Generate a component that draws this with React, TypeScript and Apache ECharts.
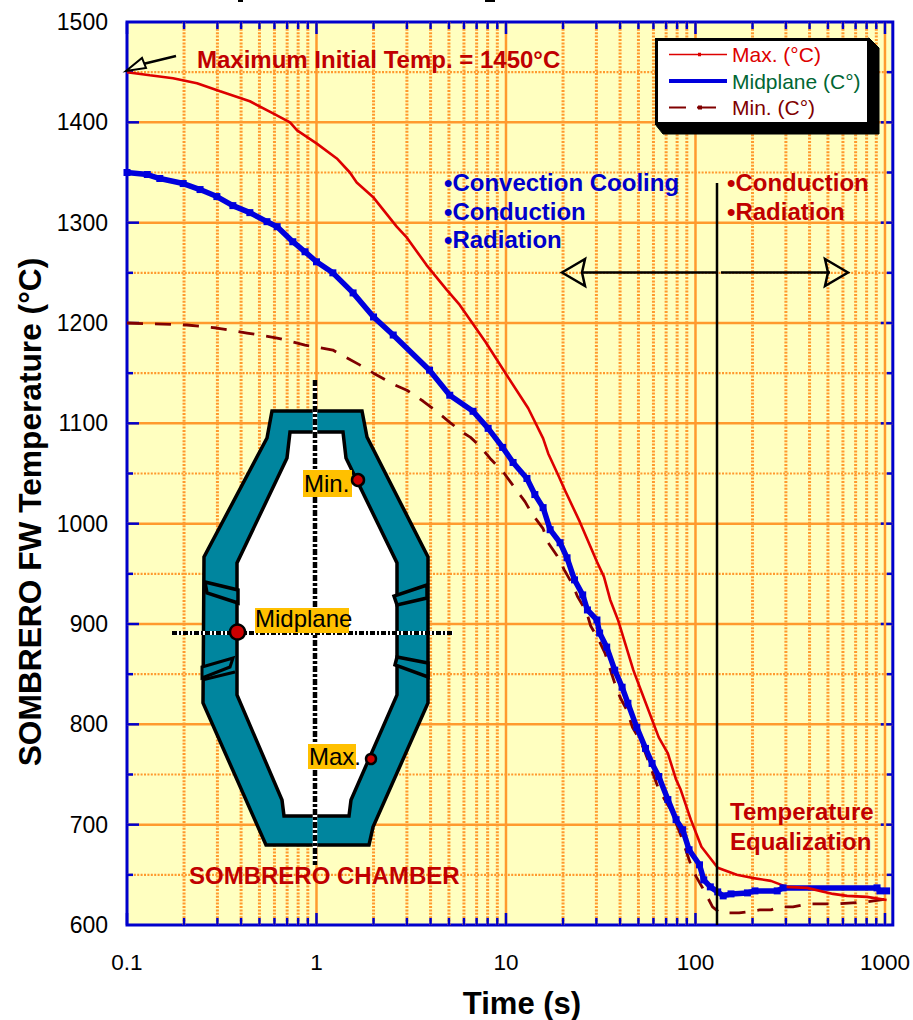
import React, { useEffect, useRef } from "react";
import * as echarts from "echarts";

const FONT = "'Liberation Sans', Arial, sans-serif";

const maxCurve: [number, number][] = [
  [0.1, 1450], [0.132, 1447], [0.175, 1444], [0.234, 1439], [0.31, 1431], [0.445, 1421], [0.59, 1409], [0.725, 1400],
  [0.79, 1392], [1.0, 1379], [1.28, 1364], [1.5, 1350], [1.63, 1340], [2.0, 1325], [2.65, 1296], [3.0, 1285],
  [3.8, 1258], [4.87, 1233], [5.7, 1218], [7.8, 1181], [10.1, 1148], [13.1, 1115], [15.7, 1085], [16.7, 1070],
  [18.9, 1048], [20.5, 1033], [24.5, 1002], [30.2, 962], [32.9, 947], [35.5, 924], [39, 904], [47, 854],
  [52, 832], [64, 787], [71.5, 771], [79, 745], [83.5, 735], [94.5, 705], [107.5, 678], [131, 657],
  [165, 650], [198, 647], [250, 644], [303, 638], [388, 637], [532, 631], [631, 629], [803, 628], [1020, 625],
];

const midCurve: [number, number][] = [
  [0.1, 1350], [0.128, 1348], [0.149, 1344], [0.198, 1339], [0.243, 1333], [0.298, 1326], [0.362, 1317], [0.445, 1310],
  [0.548, 1301], [0.62, 1296], [0.75, 1281], [0.87, 1271], [1.0, 1261], [1.22, 1250], [1.56, 1230], [2.0, 1206],
  [2.54, 1188], [3.95, 1153], [5.05, 1128], [6.7, 1112], [8.05, 1095], [9.6, 1076], [10.9, 1061], [12.9, 1045],
  [14.2, 1029], [15.7, 1016], [17.1, 994], [19.3, 981], [21, 966], [23, 944], [25.4, 929], [26.9, 914],
  [30.2, 904], [31.2, 891], [34, 877], [37.5, 854], [41, 837], [44, 821], [49, 797], [54.5, 776],
  [59, 761], [64, 748], [71.5, 725], [79, 705], [85.6, 695], [92.5, 675], [105, 660], [110.6, 645],
  [119.8, 638], [131, 633], [140, 629], [154, 631], [188, 632], [206, 634], [270, 634], [290, 637],
  [908, 637], [941, 634], [1020, 634],
];

const minCurve: [number, number][] = [
  [0.1, 1200], [0.207, 1198], [0.298, 1195], [0.43, 1190], [0.62, 1185], [0.87, 1178], [1.22, 1173], [1.7, 1158],
  [2.0, 1150], [2.54, 1139], [3.0, 1133], [3.66, 1122], [4.3, 1112], [5.05, 1101], [5.9, 1091], [6.5, 1086],
  [7.3, 1077], [8.25, 1065], [9.8, 1050], [10.9, 1038], [12.6, 1022], [13.7, 1010], [15.7, 995], [16.7, 981],
  [18.6, 968], [20.3, 954], [22.5, 939], [23.9, 927], [26.6, 912], [28, 898], [30.5, 886], [33.3, 871],
  [37.5, 841], [40, 827], [43.5, 814], [46.5, 797], [51, 784], [54.5, 771], [58, 757], [61, 746],
  [64, 735], [74, 715], [83.5, 690], [94.5, 660], [101, 648], [112, 633], [123, 618], [135, 612],
  [170, 612], [218, 615], [250, 615], [279, 618], [327, 618], [388, 621], [560, 621], [803, 623], [1020, 626],
];

const majorX = [0.1, 1, 10, 100, 1000];
const minorX = [
  0.2, 0.3, 0.4, 0.5, 0.6, 0.7, 0.8, 0.9, 2, 3, 4, 5, 6, 7, 8, 9,
  20, 30, 40, 50, 60, 70, 80, 90, 200, 300, 400, 500, 600, 700, 800, 900,
];
const majorY = [600, 700, 800, 900, 1000, 1100, 1200, 1300, 1400, 1500];
const minorY = [650, 750, 850, 950, 1050, 1150, 1250, 1350, 1450];

const ORANGE = "#ff9a2e";
const BLUE = "#0000cc";
const RED = "#c00000";
const TEAL = "#00859e";

// Legend keys: tiny specks at the corners hold the icon box open at 58x14.
const BOX = "M0 0H.01V.01H0Z M58 14H57.99V13.99H58Z ";
const ICON_MAX = "path://" + BOX + "M0 6.2H58V7.8H0Z M29 5.2H32V8.8H29Z";
const ICON_MID = "path://" + BOX + "M0 5H58V9H0Z";
const ICON_MIN = "path://" + BOX + "M0 6H17V8H0Z M28 6H47V8H28Z M29 5H33V9H29Z";

const seg = (x1: number, y1: number, x2: number, y2: number, stroke: string, lineWidth: number, lineDash?: number[]) => ({
  type: "line",
  shape: { x1, y1, x2, y2 },
  style: { stroke, lineWidth, lineDash: lineDash || null, fill: null },
});

const verticalGrid = (major: boolean) => (params: any, api: any) => {
  const r = params.coordSys;
  const v = api.value(0);
  const x = api.coord([v, 1000])[0];
  const top = r.y;
  const bottom = r.y + r.height;
  const t = major ? 12 : 7;
  const children: any[] = [];
  if (major) {
    if (v > 0.11) children.push(seg(x, top, x, bottom, ORANGE, 2.5));
  } else {
    children.push(seg(x, top, x, bottom, ORANGE, 3, [2, 1.4]));
  }
  children.push(seg(x, top, x, top + t, BLUE, 2.5));
  children.push(seg(x, bottom, x, bottom - t, BLUE, 2.5));
  return { type: "group", children };
};

const horizontalGrid = (major: boolean) => (params: any, api: any) => {
  const r = params.coordSys;
  const v = api.value(1);
  const y = api.coord([1, v])[1];
  const left = r.x;
  const right = r.x + r.width;
  const t = major ? 12 : 6;
  const children: any[] = [];
  if (major) {
    if (v > 600 && v < 1500) children.push(seg(left, y, right, y, ORANGE, 2.5));
  } else {
    children.push(seg(left, y, right, y, ORANGE, 2.2, [2, 1.4]));
  }
  if (v > 600 && v < 1500) {
    children.push(seg(left, y, left + t, y, BLUE, 2.5));
    children.push(seg(right, y, right - t, y, BLUE, 2.5));
  }
  return { type: "group", children };
};

const txt = (text: string, x: number, y: number, fill: string, fontSize = 24, fontWeight = "bold", align = "left", extra: any = {}) => ({
  type: "text",
  x,
  y,
  z: 8,
  ...extra,
  style: { text, x: 0, y: 0, fill, fontSize, fontWeight, fontFamily: FONT, align, verticalAlign: "middle" },
});

const poly = (points: number[][], fill: string, stroke: string, lineWidth: number, z = 5) => ({
  type: "polygon",
  z,
  shape: { points },
  style: { fill, stroke, lineWidth, lineJoin: "miter" },
});

const gline = (x1: number, y1: number, x2: number, y2: number, stroke: string, lineWidth: number, z = 6, lineDash?: number[]) => ({
  type: "line",
  z,
  shape: { x1, y1, x2, y2 },
  style: { stroke, lineWidth, lineDash: lineDash || null },
});

const labelBox = (x: number, y: number, w: number, h: number) => ({
  type: "rect",
  z: 7,
  shape: { x, y, width: w, height: h },
  style: { fill: "#ffc000" },
});

const dot = (cx: number, cy: number, r: number) => ({
  type: "circle",
  z: 8,
  shape: { cx, cy, r },
  style: { fill: "#cc0000", stroke: "#000", lineWidth: 2.5 },
});

export default function App() {
  const ref = useRef<HTMLDivElement>(null);
  useEffect(() => {
    const chart = echarts.init(ref.current!, null, { renderer: "svg" });
    const graphic = [
      // clipped descenders of the cut-off title
      { type: "rect", z: 8, shape: { x: 238, y: 0, width: 5, height: 2 }, style: { fill: "#000" } },
      { type: "rect", z: 8, shape: { x: 485, y: 0, width: 10, height: 2 }, style: { fill: "#000" } },
      // axis titles
      txt("Time (s)", 522, 1003, "#000", 31, "bold", "center"),
      txt("SOMBRERO FW Temperature (°C)", 30, 512, "#000", 31.7, "bold", "center", { rotation: Math.PI / 2 }),
      // legend frame
      poly([[869, 38], [879, 48], [879, 134], [663, 134], [655, 124]], "#000", "#000", 1, 4),
      { type: "rect", z: 4, shape: { x: 656.5, y: 39.5, width: 212, height: 84 }, style: { fill: "#fff", stroke: "#000", lineWidth: 3 } },
      // initial temperature arrow
      gline(143, 64, 176, 56, "#000", 2.5),
      poly([[126, 71], [142, 58], [146, 68]], "#ffffd8", "#000", 2, 7),
      // process arrows
      gline(717, 183, 717, 925, "#000", 2.5),
      gline(582, 272.5, 716, 272.5, "#000", 2.5),
      gline(721, 272.5, 830, 272.5, "#000", 2.5),
      poly([[562, 272.5], [585, 259], [582, 272.5], [585, 286]], "none", "#000", 2.5, 7),
      poly([[848, 272.5], [825, 259], [828, 272.5], [825, 286]], "none", "#000", 2.5, 7),
      // chamber
      poly([[272, 411], [362, 411], [367, 437], [428, 557], [428, 703], [373, 827], [369, 845], [266, 845], [203, 703], [204, 557], [267, 438]], TEAL, "#000", 3.5),
      poly([[290, 432], [343, 432], [346, 458], [397, 563], [397, 695], [351, 800], [349, 816], [284, 816], [282, 800], [237, 695], [237, 563], [287, 458]], "#fff", "#000", 3.5),
      poly([[205, 582], [238, 590], [238, 603], [207, 593]], TEAL, "#000", 3.5),
      poly([[202, 667], [233, 658], [230, 667], [202, 678]], TEAL, "#000", 3),
      gline(202, 680, 235, 672, "#000", 3),
      poly([[427, 585], [394, 596], [397, 605], [427, 598]], TEAL, "#000", 3.5),
      poly([[397, 657], [428, 663], [428, 677], [395, 665]], TEAL, "#000", 3.5),
      gline(315, 380, 315, 865, "#fff", 4.5, 6),
      gline(315, 380, 315, 865, "#000", 4.5, 6, [6, 2, 3, 2]),
      gline(172, 633, 453, 633, "#fff", 4, 6),
      gline(172, 633, 453, 633, "#000", 4, 6, [5, 2, 2, 2]),
      labelBox(303, 470, 49, 27),
      labelBox(255, 608, 94, 25),
      labelBox(308, 744, 48, 25),
      dot(358, 480, 6),
      dot(237.5, 632, 7.5),
      dot(371, 759, 5),
      txt("Min.", 304, 483, "#000", 24, "normal"),
      txt("Midplane", 255, 618, "#000", 24, "normal"),
      txt("Max.", 309, 756, "#000", 24, "normal"),
      // annotations
      txt("Maximum Initial Temp. = 1450°C", 197, 59, RED),
      txt("•Convection Cooling", 444, 182, BLUE),
      txt("•Conduction", 444, 211, BLUE),
      txt("•Radiation", 444, 239, BLUE),
      txt("•Conduction", 727, 182, RED),
      txt("•Radiation", 727, 211, RED),
      txt("Temperature", 730, 811, RED),
      txt("Equalization", 730, 841, RED),
      txt("SOMBRERO CHAMBER", 189, 875, RED),
    ];

    chart.setOption({
      animation: false,
      textStyle: { fontFamily: FONT },
      grid: {
        left: 127,
        right: 20,
        top: 22,
        bottom: 95,
        show: true,
        backgroundColor: "#ffffc0",
        borderColor: BLUE,
        borderWidth: 3,
        containLabel: false,
      },
      legend: {
        orient: "vertical",
        left: 669,
        top: 44,
        padding: 0,
        itemWidth: 58,
        itemHeight: 14,
        itemGap: 5.5,
        z: 6,
        data: [
          { name: "Max. (°C)", icon: ICON_MAX, textStyle: { color: "#dd0000" } },
          { name: "Midplane (C°)", icon: ICON_MID, textStyle: { color: "#006633" } },
          { name: "Min. (C°)", icon: ICON_MIN, textStyle: { color: "#800000" } },
        ],
        textStyle: { fontSize: 21, fontFamily: FONT },
      },
      xAxis: {
        type: "log",
        logBase: 10,
        min: 0.1,
        max: 1100,
        axisLine: { show: false },
        axisTick: { show: false },
        splitLine: { show: false },
        minorTick: { show: false },
        axisLabel: {
          color: "#000",
          fontSize: 22.5,
          fontFamily: FONT,
          margin: 26,
          showMaxLabel: false,
          formatter: (v: number) => {
            const m = majorX.find((k) => Math.abs(k - v) / k < 1e-6);
            return m === undefined ? "" : String(m);
          },
        },
      },
      yAxis: {
        type: "value",
        min: 600,
        max: 1500,
        interval: 100,
        axisLine: { show: false },
        axisTick: { show: false },
        splitLine: { show: false },
        axisLabel: { color: "#000", fontSize: 23, fontFamily: FONT, margin: 19, formatter: (v: number) => String(v) },
      },
      series: [
        { type: "custom", name: "gridMinorX", z: 1, silent: true, renderItem: verticalGrid(false), encode: { x: 0, y: 1 }, data: minorX.map((v) => [v, 1000]) },
        { type: "custom", name: "gridMinorY", z: 1, silent: true, renderItem: horizontalGrid(false), encode: { x: 0, y: 1 }, data: minorY.map((v) => [1, v]) },
        { type: "custom", name: "gridMajorY", z: 1, silent: true, renderItem: horizontalGrid(true), encode: { x: 0, y: 1 }, data: majorY.map((v) => [1, v]) },
        { type: "custom", name: "gridMajorX", z: 1, silent: true, renderItem: verticalGrid(true), encode: { x: 0, y: 1 }, data: majorX.map((v) => [v, 1000]) },
        {
          type: "line", name: "Min. (C°)", z: 3, data: minCurve, symbol: "none", clip: false,
          lineStyle: { color: "#800000", width: 2.8, type: [16, 12] }, itemStyle: { color: "#800000" },
        },
        {
          type: "line", name: "Midplane (C°)", z: 3, data: midCurve, symbol: "rect", symbolSize: 7, showSymbol: true, clip: false,
          lineStyle: { color: "#0000dd", width: 5.5 }, itemStyle: { color: "#0000dd" },
        },
        {
          type: "line", name: "Max. (°C)", z: 3, data: maxCurve, symbol: "none", clip: false,
          lineStyle: { color: "#dd0000", width: 2.6 }, itemStyle: { color: "#dd0000" },
        },
      ],
      graphic,
    });
    return () => chart.dispose();
  }, []);
  return <div ref={ref} style={{ position: "absolute", left: 0, top: 0, width: 913, height: 1020, background: "#fff" }} />;
}
